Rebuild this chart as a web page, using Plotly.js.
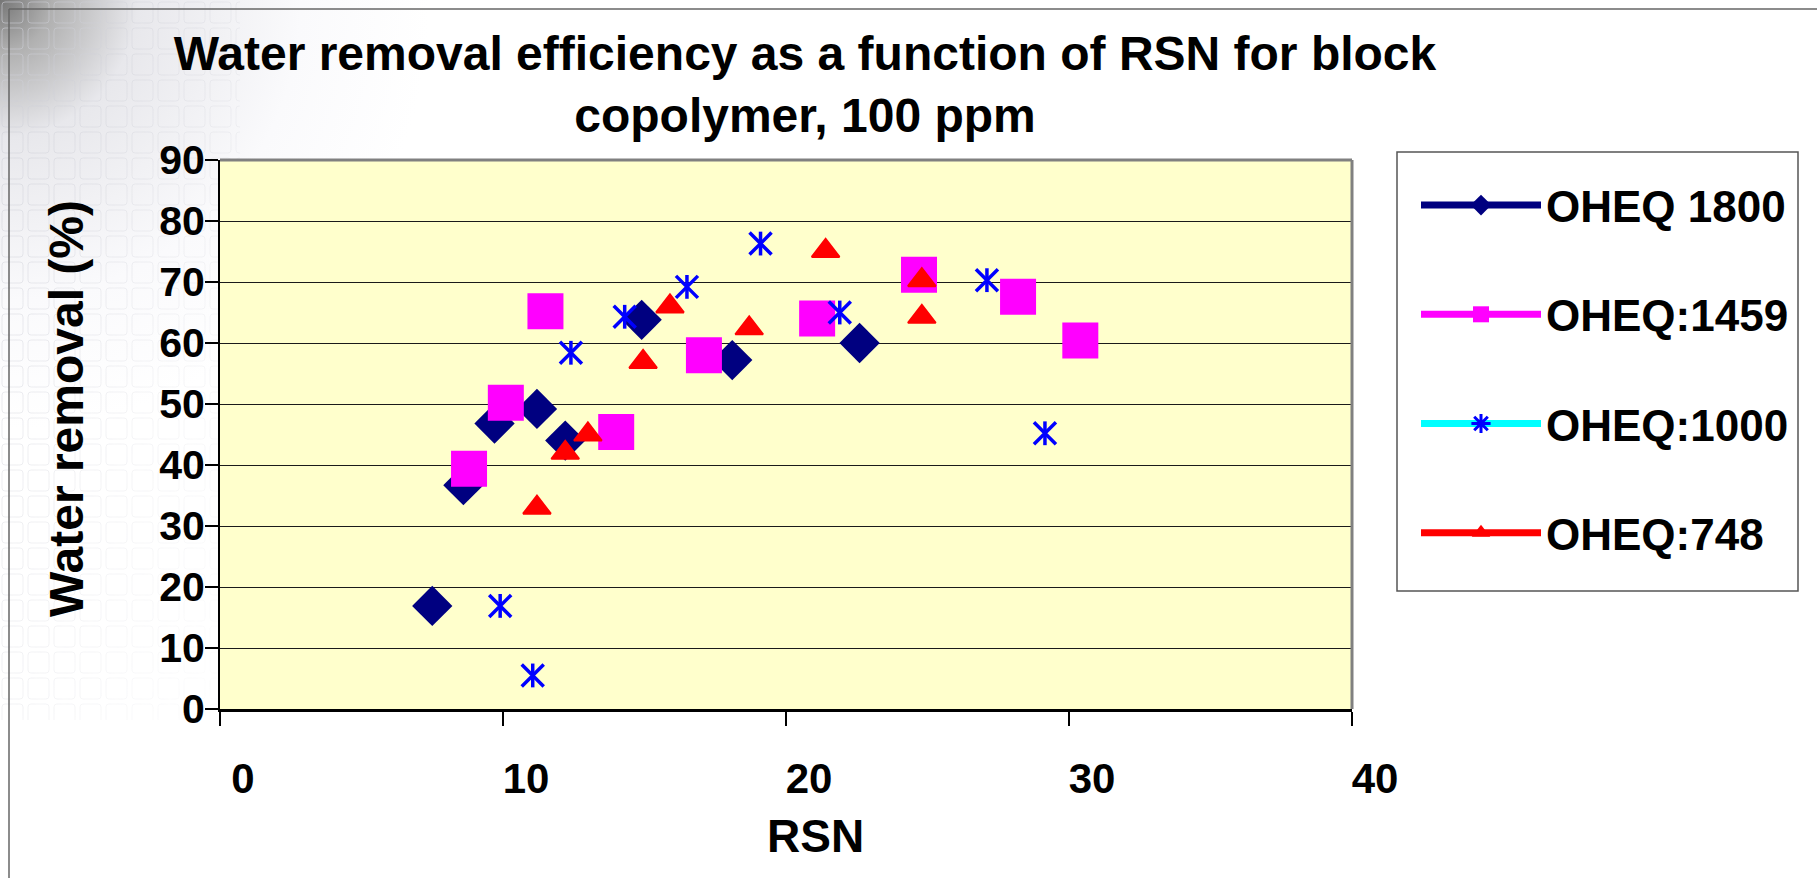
<!DOCTYPE html>
<html><head><meta charset="utf-8">
<script src="https://cdn.plot.ly/plotly-3.0.1.min.js"></script>
<style>html,body{margin:0;padding:0;background:#fff;overflow:hidden}#chart{width:1817px;height:878px}</style>
</head><body><div id="chart"></div>
<script>
// ---- data ----
const seriesNames = ['OHEQ 1800', 'OHEQ:1459', 'OHEQ:1000', 'OHEQ:748'];
const rsn1800 = [7.5, 8.6, 9.7, 11.2, 12.2, 14.9, 18.1, 22.6];
const wr1800  = [16.9, 36.7, 46.8, 49.2, 44.0, 63.8, 57.2, 60.0];
const rsn1459 = [8.8, 10.1, 11.5, 14.0, 17.1, 21.1, 24.7, 28.2, 30.4];
const wr1459  = [39.4, 50.2, 65.2, 45.4, 58.0, 64.0, 71.2, 67.6, 60.4];
const rsn1000 = [9.9, 11.05, 12.4, 14.3, 16.5, 19.1, 21.9, 27.1, 29.15];
const wr1000  = [16.9, 5.5, 58.4, 64.3, 69.2, 76.3, 65.0, 70.3, 45.2];
const rsn748  = [11.2, 12.2, 13.0, 14.95, 15.9, 18.7, 21.4, 24.8, 24.8];
const wr748   = [33.0, 42.0, 45.0, 56.9, 66.0, 62.4, 75.1, 70.3, 64.3];
const xTickVals = [0, 10, 20, 30, 40];
const xTickText = ['0', '10', '20', '30', '40'];
const yTickVals = [0, 10, 20, 30, 40, 50, 60, 70, 80, 90];
const yTickText = ['0', '10', '20', '30', '40', '50', '60', '70', '80', '90'];
const titleText = 'Water removal efficiency as a function of RSN for block<br>copolymer, 100 ppm';
const xTitle = 'RSN';
const yTitle = 'Water removal (%)';

// ---- layout geometry (pixels) ----
const W = 1817, H = 878, L = 220, R = 1352, T = 160, B = 709;
const PW = R - L, PH = B - T;
const px = p => (p - L) / PW;
const py = p => (B - p) / PH;
const FONT = 'Liberation Sans, Arial, Helvetica, sans-serif';
const bold = (size, color) => ({family: FONT, size: size, color: color || '#000', weight: 'bold'});

const NAVY = '#000080', MAG = '#FF00FF', BLUE = '#0000FF', CYAN = '#00FFFF', RED = '#FF0000';

const traces = [
  {x: rsn1800, y: wr1800, type: 'scatter', mode: 'markers', showlegend: false, legendgroup: 'a', name: seriesNames[0],
   marker: {symbol: 'diamond', size: 31, color: NAVY, line: {width: 0}}, hoverinfo: 'name+x+y'},
  {x: rsn1459, y: wr1459, type: 'scatter', mode: 'markers', showlegend: false, legendgroup: 'b', name: seriesNames[1],
   marker: {symbol: 'square', size: 36, color: MAG, line: {width: 0}}, hoverinfo: 'name+x+y'},
  {x: rsn1000, y: wr1000, type: 'scatter', mode: 'markers', showlegend: false, legendgroup: 'c', name: seriesNames[2],
   marker: {symbol: 'x-thin-open', size: 22, color: BLUE, line: {width: 3.5, color: BLUE}}, hoverinfo: 'name+x+y'},
  {x: rsn1000, y: wr1000, type: 'scatter', mode: 'markers', showlegend: false, legendgroup: 'c', name: seriesNames[2],
   marker: {symbol: 'line-ns-open', size: 17, color: BLUE, line: {width: 3.5, color: BLUE}}, hoverinfo: 'skip'},
  {x: rsn748, y: wr748, type: 'scatter', mode: 'markers', showlegend: false, legendgroup: 'd', name: seriesNames[3],
   marker: {symbol: 'triangle-up', size: 24, color: RED, line: {width: 2, color: RED}}, hoverinfo: 'name+x+y'},
  // legend entries (line + marker, as in the original legend)
  {x: [null], y: [null], type: 'scatter', mode: 'lines+markers', name: seriesNames[0], legendgroup: 'a',
   line: {color: NAVY, width: 7}, marker: {symbol: 'diamond', size: 16, color: NAVY}},
  {x: [null], y: [null], type: 'scatter', mode: 'lines+markers', name: seriesNames[1], legendgroup: 'b',
   line: {color: MAG, width: 7}, marker: {symbol: 'square', size: 16, color: MAG}},
  {x: [null], y: [null], type: 'scatter', mode: 'lines+markers', name: seriesNames[2], legendgroup: 'c',
   line: {color: CYAN, width: 7}, marker: {symbol: 'asterisk-open', size: 16, color: BLUE, line: {width: 3, color: BLUE}}},
  {x: [null], y: [null], type: 'scatter', mode: 'lines+markers', name: seriesNames[3], legendgroup: 'd',
   line: {color: RED, width: 7}, marker: {symbol: 'triangle-up', size: 16, color: RED}}
];

const bgSvg = "<svg xmlns='http://www.w3.org/2000/svg' width='620' height='878' viewBox='0 0 620 878'>" +
  "<defs><radialGradient id='g' gradientUnits='userSpaceOnUse' cx='0' cy='0' r='430'>" +
  "<stop offset='0' stop-color='#767676'/><stop offset='0.12' stop-color='#b0b0b0'/>" +
  "<stop offset='0.32' stop-color='#e8e8ec'/><stop offset='0.7' stop-color='#fafafc'/>" +
  "<stop offset='1' stop-color='#ffffff'/></radialGradient>" +
  "<pattern id='p' width='26' height='26' patternUnits='userSpaceOnUse'>" +
  "<rect x='2' y='2' width='21' height='21' rx='3' fill='none' stroke='#cfd0d8' stroke-width='1'/></pattern>" +
  "<linearGradient id='mg' x1='0' y1='0' x2='1' y2='1'><stop offset='0' stop-color='#fff'/><stop offset='0.55' stop-color='#666'/><stop offset='1' stop-color='#000'/></linearGradient>" +
  "<mask id='mk'><rect width='240' height='720' fill='url(#mg)'/></mask></defs>" +
  "<path d='M0,0H620V160H220V878H0Z' fill='url(#g)'/>" +
  "<path d='M0,0H620V160H220V878H0Z' fill='url(#p)' mask='url(#mk)' opacity='0.6'/></svg>";

const layout = {
  width: W, height: H,
  margin: {l: L, r: W - R, t: T, b: H - B, pad: 0},
  paper_bgcolor: '#ffffff',
  plot_bgcolor: '#FFFFCC',
  showlegend: true,
  hovermode: 'closest',
  title: {text: titleText, font: bold(48), x: 805 / W, xanchor: 'center', xref: 'container',
          y: 1 - 70 / H, yanchor: 'top', yref: 'container'},
  xaxis: {range: [0, 40], tickvals: xTickVals, ticktext: xTickText, ticks: 'outside', ticklen: 14,
          tickwidth: 1.5, tickcolor: '#000', showline: true, linecolor: '#000', linewidth: 2.5,
          ticklabelshift: 23, ticklabelstandoff: 17, tickfont: bold(42),
          showgrid: false, zeroline: false, fixedrange: true},
  yaxis: {range: [0, 90], tickvals: yTickVals, ticktext: yTickText, ticks: 'outside', ticklen: 13,
          tickwidth: 1.5, tickcolor: '#000', showline: true, linecolor: '#000', linewidth: 2,
          ticklabelstandoff: -8,
          showgrid: true, gridcolor: '#1a1a1a', gridwidth: 1, zeroline: false, tickfont: bold(41),
          fixedrange: true},
  legend: {x: px(1416), y: py(170), xanchor: 'left', yanchor: 'top', bgcolor: 'rgba(0,0,0,0)',
           borderwidth: 0, font: bold(44), traceorder: 'grouped', tracegroupgap: 49, itemwidth: 120,
           itemclick: false, itemdoubleclick: false},
  annotations: [
    {text: yTitle, xref: 'paper', yref: 'paper', x: px(66), y: py(409), textangle: -90,
     showarrow: false, xanchor: 'center', yanchor: 'middle', font: bold(48)},
    {text: xTitle, xref: 'paper', yref: 'paper', x: px(815), y: py(836),
     showarrow: false, xanchor: 'center', yanchor: 'middle', font: bold(46)}
  ],
  shapes: [
    // legend box
    {type: 'rect', xref: 'paper', yref: 'paper', x0: px(1397), x1: px(1798), y0: py(591), y1: py(152),
     fillcolor: '#ffffff', line: {color: '#555', width: 1.5}, layer: 'below'},
    // plot-area border (top, right)
    {type: 'line', xref: 'paper', yref: 'paper', x0: 0, x1: 1, y0: 1, y1: 1, line: {color: '#808080', width: 3}, layer: 'above'},
    {type: 'line', xref: 'paper', yref: 'paper', x0: 1, x1: 1, y0: 0, y1: 1, line: {color: '#808080', width: 3}, layer: 'above'},
    // chart frame
    {type: 'line', xref: 'paper', yref: 'paper', x0: px(9), x1: px(9), y0: py(H + 5), y1: py(9), line: {color: '#666', width: 1.5}, layer: 'above'},
    {type: 'line', xref: 'paper', yref: 'paper', x0: px(9), x1: px(W + 5), y0: py(9), y1: py(9), line: {color: '#666', width: 1.5}, layer: 'above'}
  ],
  images: [
    {source: 'data:image/svg+xml;charset=utf-8,' + encodeURIComponent(bgSvg), xref: 'paper', yref: 'paper',
     x: px(0), y: py(0), sizex: 620 / PW, sizey: 878 / PH, xanchor: 'left', yanchor: 'top',
     sizing: 'stretch', layer: 'below', opacity: 1}
  ]
};

Plotly.newPlot('chart', traces, layout, {displayModeBar: false, responsive: false});
</script></body></html>
